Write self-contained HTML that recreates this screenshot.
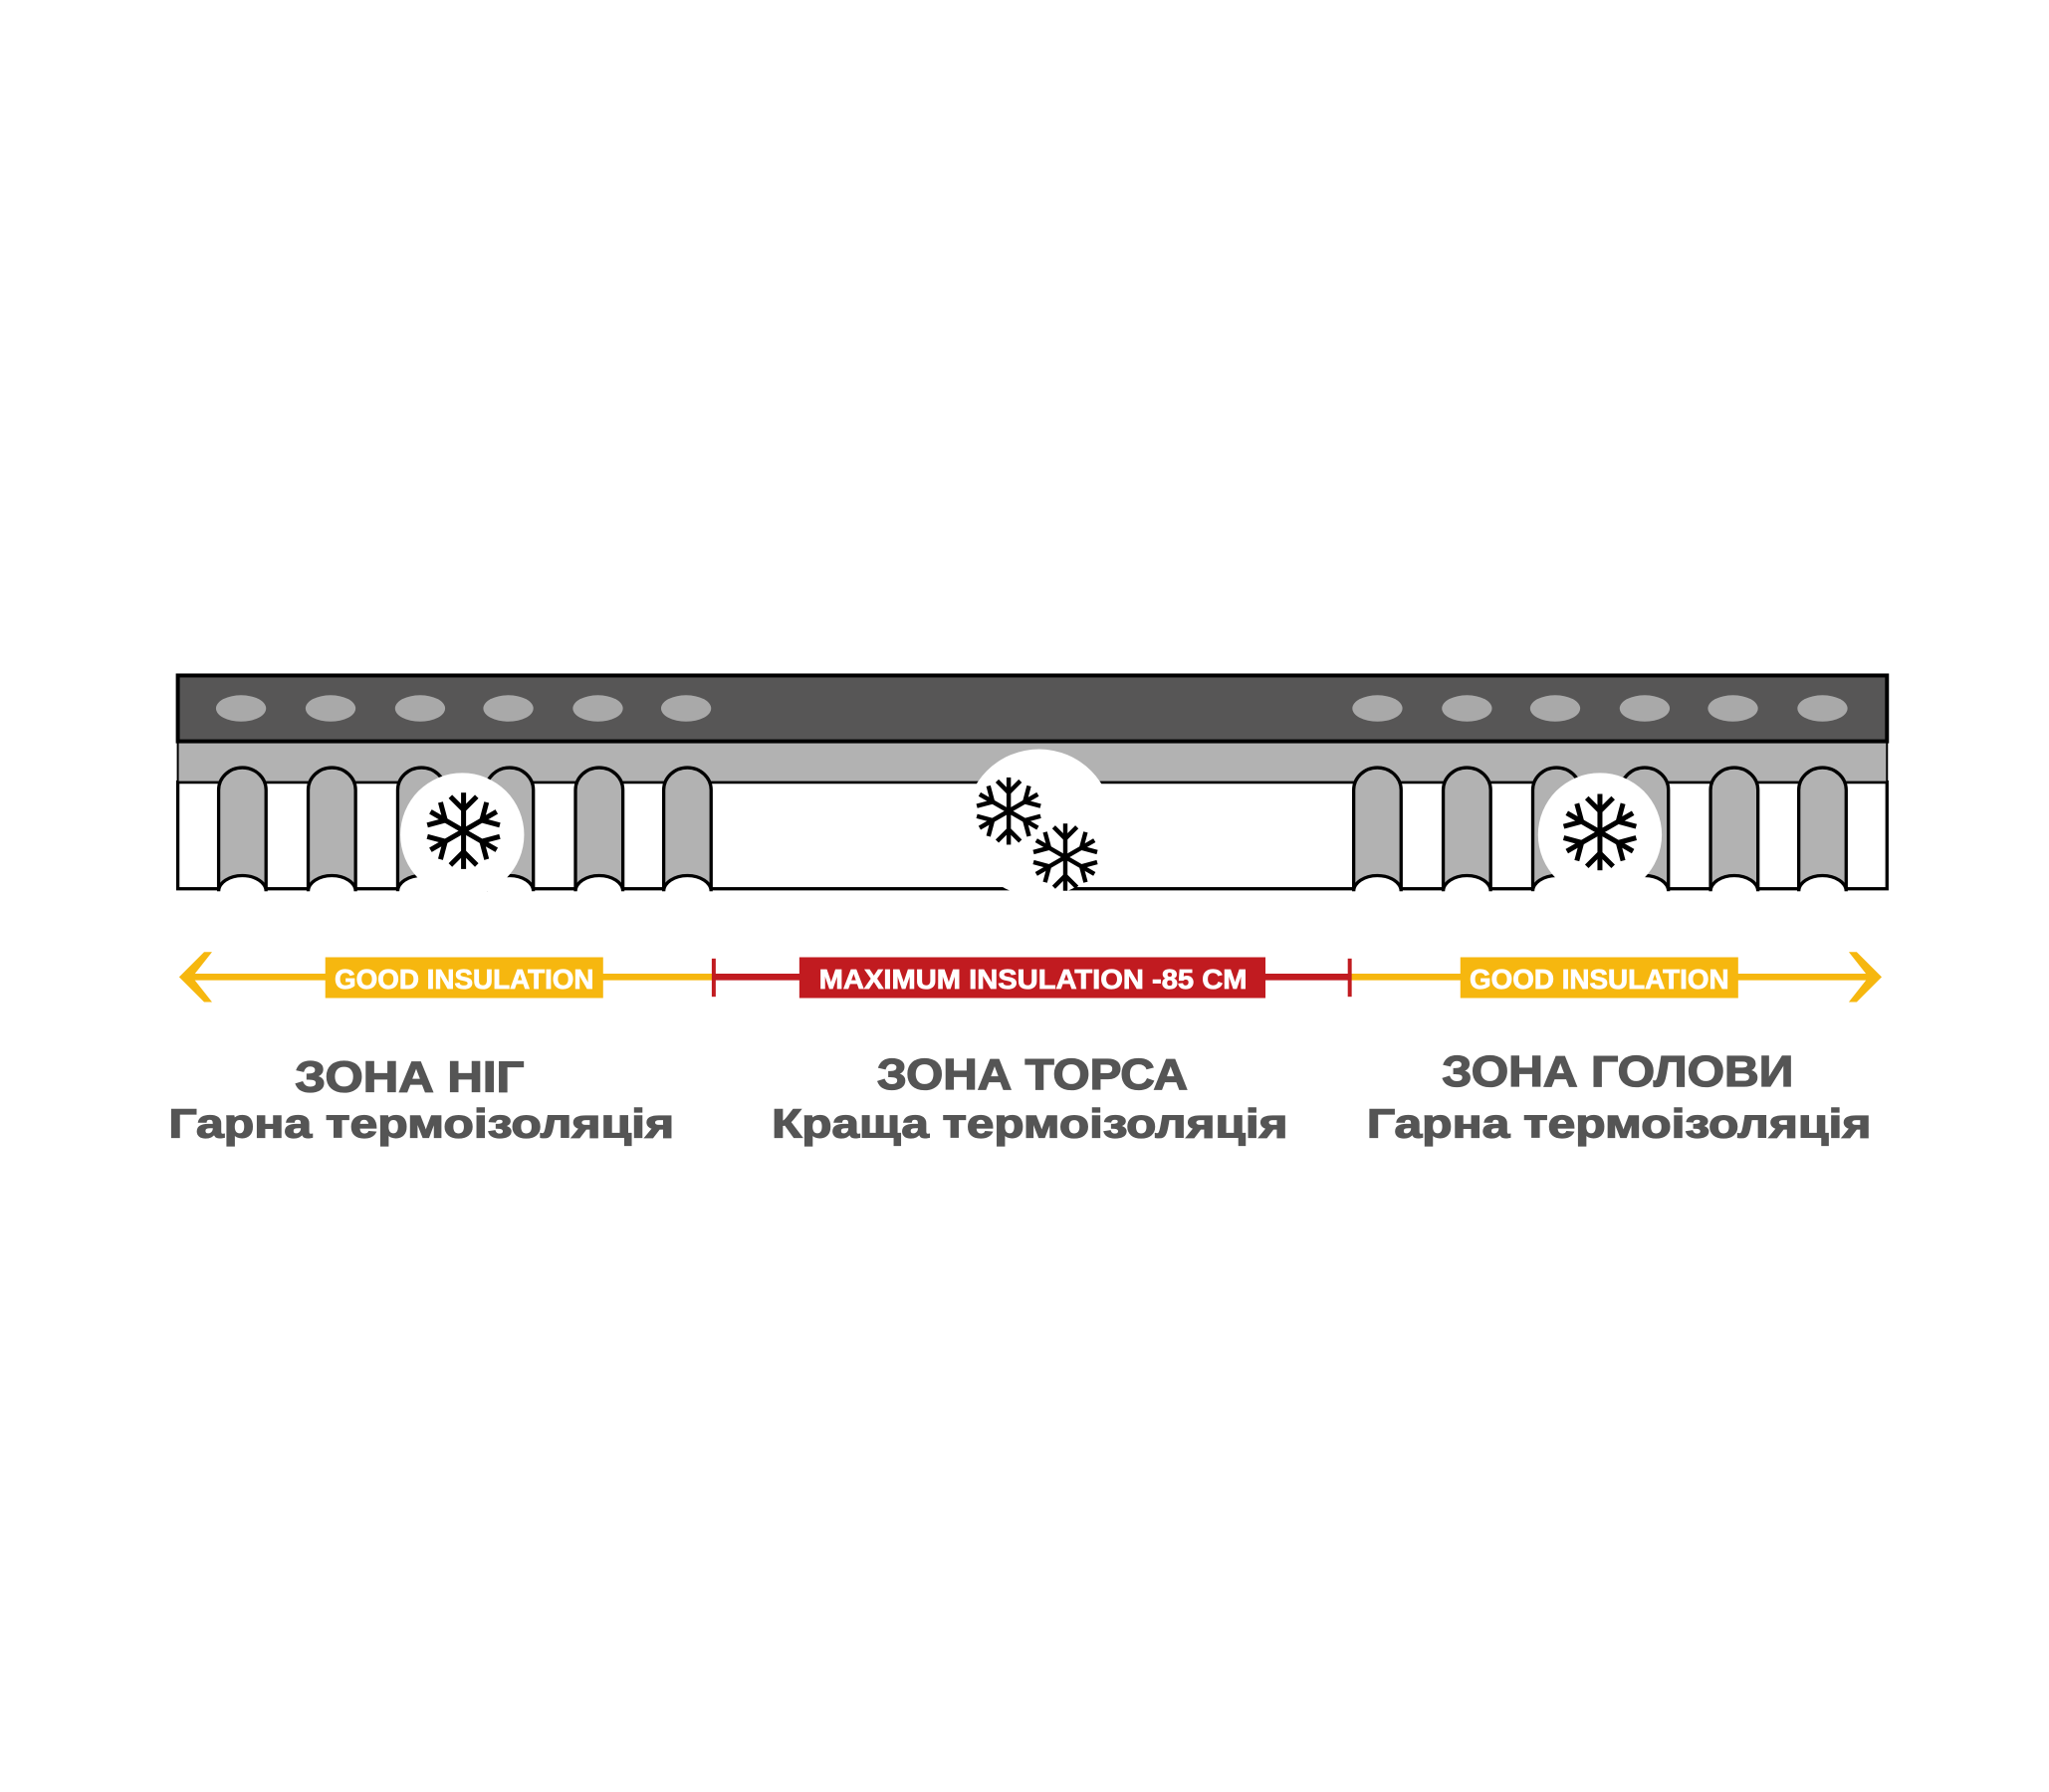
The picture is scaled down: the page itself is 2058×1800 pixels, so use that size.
<!DOCTYPE html>
<html><head><meta charset="utf-8"><style>
html,body{margin:0;padding:0;background:#fff;}
svg{display:block;}
</style></head><body>
<svg width="2058" height="1800" viewBox="0 0 1556 1361" xmlns="http://www.w3.org/2000/svg">
<defs>
<g id="arm" stroke="#000" stroke-width="3.8" stroke-linecap="butt" fill="none">
<line x1="0" y1="0" x2="0" y2="-29"/>
<polyline points="-10,-26 0,-16 10,-26"/>
</g>
<g id="flake">
<use href="#arm"/>
<use href="#arm" transform="rotate(60)"/>
<use href="#arm" transform="rotate(120)"/>
<use href="#arm" transform="rotate(180)"/>
<use href="#arm" transform="rotate(240)"/>
<use href="#arm" transform="rotate(300)"/>
</g>
</defs>
<rect width="1556" height="1361" fill="#fff"/>
<rect x="135" y="594" width="1298" height="81" fill="#fff" stroke="#000" stroke-width="2.5"/>
<rect x="135" y="563" width="1298" height="31" fill="#b2b2b2" stroke="#000" stroke-width="1.5"/>
<rect x="135" y="513" width="1298" height="50" fill="#575656" stroke="#000" stroke-width="3"/>
<g fill="#a9a9a9">
<ellipse cx="183" cy="538" rx="19" ry="10"/>
<ellipse cx="251" cy="538" rx="19" ry="10"/>
<ellipse cx="319" cy="538" rx="19" ry="10"/>
<ellipse cx="386" cy="538" rx="19" ry="10"/>
<ellipse cx="454" cy="538" rx="19" ry="10"/>
<ellipse cx="521" cy="538" rx="19" ry="10"/>
<ellipse cx="1046" cy="538" rx="19" ry="10"/>
<ellipse cx="1114" cy="538" rx="19" ry="10"/>
<ellipse cx="1181" cy="538" rx="19" ry="10"/>
<ellipse cx="1249" cy="538" rx="19" ry="10"/>
<ellipse cx="1316" cy="538" rx="19" ry="10"/>
<ellipse cx="1384" cy="538" rx="19" ry="10"/>
</g>
<g>
<g fill="#b2b2b2" stroke="#000" stroke-width="2.5">
<path d="M166,675 L166,600 A18,17 0 0 1 202,600 L202,675"/>
<path d="M234,675 L234,600 A18,17 0 0 1 270,600 L270,675"/>
<path d="M302,675 L302,600 A18,17 0 0 1 338,600 L338,675"/>
<path d="M369,675 L369,600 A18,17 0 0 1 405,600 L405,675"/>
<path d="M437,675 L437,600 A18,17 0 0 1 473,600 L473,675"/>
<path d="M504,675 L504,600 A18,17 0 0 1 540,600 L540,675"/>
<path d="M1028,675 L1028,600 A18,17 0 0 1 1064,600 L1064,675"/>
<path d="M1096,675 L1096,600 A18,17 0 0 1 1132,600 L1132,675"/>
<path d="M1164,675 L1164,600 A18,17 0 0 1 1200,600 L1200,675"/>
<path d="M1231,675 L1231,600 A18,17 0 0 1 1267,600 L1267,675"/>
<path d="M1299,675 L1299,600 A18,17 0 0 1 1335,600 L1335,675"/>
<path d="M1366,675 L1366,600 A18,17 0 0 1 1402,600 L1402,675"/>
</g>
<g fill="#fff" stroke="#000" stroke-width="2.5">
<path d="M166,677 A18,12 0 0 1 202,677"/>
<path d="M234,677 A18,12 0 0 1 270,677"/>
<path d="M302,677 A18,12 0 0 1 338,677"/>
<path d="M369,677 A18,12 0 0 1 405,677"/>
<path d="M437,677 A18,12 0 0 1 473,677"/>
<path d="M504,677 A18,12 0 0 1 540,677"/>
<path d="M1028,677 A18,12 0 0 1 1064,677"/>
<path d="M1096,677 A18,12 0 0 1 1132,677"/>
<path d="M1164,677 A18,12 0 0 1 1200,677"/>
<path d="M1231,677 A18,12 0 0 1 1267,677"/>
<path d="M1299,677 A18,12 0 0 1 1335,677"/>
<path d="M1366,677 A18,12 0 0 1 1402,677"/>
</g>
<rect x="160" y="677" width="1250" height="6" fill="#fff"/>
</g>
<circle cx="351" cy="634" r="47" fill="#fff"/>
<circle cx="1215" cy="634" r="47" fill="#fff"/>
<circle cx="789" cy="625" r="56" fill="#fff"/>
<rect x="290" y="677" width="130" height="20" fill="#fff"/>
<rect x="1150" y="677" width="130" height="20" fill="#fff"/>
<rect x="720" y="677" width="140" height="20" fill="#fff"/>
<use href="#flake" transform="translate(352,631)"/>
<use href="#flake" transform="translate(1215,632)"/>
<use href="#flake" transform="translate(766,616) scale(0.88)"/>
<use href="#flake" transform="translate(809,651) scale(0.88)"/>
<line x1="145" y1="742" x2="542" y2="742" stroke="#f6b70f" stroke-width="5"/>
<polygon points="136,742 155,723 161,723 146,742 161,761 155,761" fill="#f6b70f"/>
<line x1="1025" y1="742" x2="1420" y2="742" stroke="#f6b70f" stroke-width="5"/>
<polygon points="1429,742 1410,723 1404,723 1419,742 1404,761 1410,761" fill="#f6b70f"/>
<line x1="542" y1="742" x2="1025" y2="742" stroke="#c11b20" stroke-width="5"/>
<line x1="542" y1="728" x2="542" y2="757" stroke="#c11b20" stroke-width="3"/>
<line x1="1025" y1="728" x2="1025" y2="757" stroke="#c11b20" stroke-width="3"/>
<rect x="247" y="727" width="211" height="31" fill="#f6b70f"/>
<rect x="1109" y="727" width="211" height="31" fill="#f6b70f"/>
<rect x="607" y="727" width="354" height="31" fill="#c11b20"/>
<g font-family="Liberation Sans Narrow, Liberation Sans, sans-serif" font-weight="bold" font-size="21" fill="#fff" stroke="#fff" stroke-width="0.6">
<text x="254" y="751" textLength="197" lengthAdjust="spacingAndGlyphs">GOOD INSULATION</text>
<text x="1116" y="751" textLength="197" lengthAdjust="spacingAndGlyphs">GOOD INSULATION</text>
<text x="622" y="751" textLength="325" lengthAdjust="spacingAndGlyphs">MAXIMUM INSULATION -85 CM</text>
</g>
<g font-family="Liberation Sans, DejaVu Sans, sans-serif" font-weight="bold" fill="#555555" stroke="#555555" stroke-width="1">
<text x="224" y="829" font-size="33" textLength="174" lengthAdjust="spacingAndGlyphs">ЗОНА НІГ</text>
<text x="666" y="827" font-size="33" textLength="236" lengthAdjust="spacingAndGlyphs">ЗОНА ТОРСА</text>
<text x="1095" y="825" font-size="33" textLength="267" lengthAdjust="spacingAndGlyphs">ЗОНА ГОЛОВИ</text>
<text x="128" y="864" font-size="31" textLength="384" lengthAdjust="spacingAndGlyphs">Гарна термоізоляція</text>
<text x="586" y="864" font-size="31" textLength="392" lengthAdjust="spacingAndGlyphs">Краща термоізоляція</text>
<text x="1038" y="864" font-size="31" textLength="383" lengthAdjust="spacingAndGlyphs">Гарна термоізоляція</text>
</g>
</svg>
</body></html>
